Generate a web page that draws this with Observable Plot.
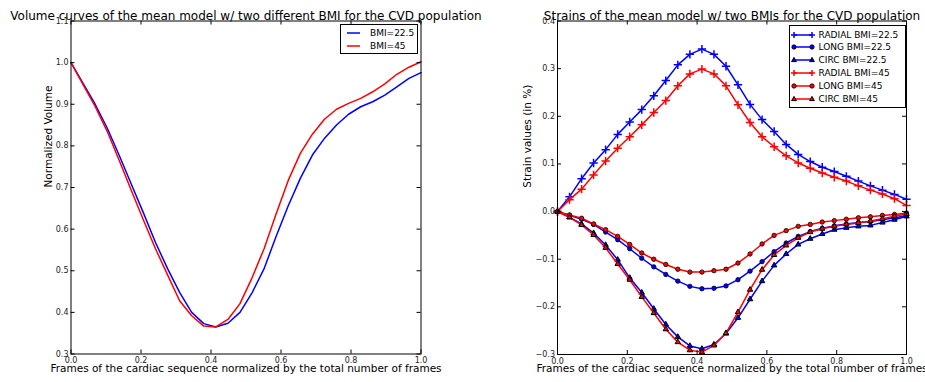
<!DOCTYPE html>
<html><head><meta charset="utf-8">
<script src="https://cdn.jsdelivr.net/npm/d3@7"></script>
<script src="https://cdn.jsdelivr.net/npm/@observablehq/plot@0.6"></script>
<style>
body{margin:0;background:#fff;font-family:"DejaVu Sans",sans-serif;}
#wrap{position:relative;width:925px;height:382px;overflow:hidden;background:#fff;}
#wrap svg.panel{position:absolute;left:0;top:0;}
.legend{position:absolute;border:1px solid #000;background:#fff;box-sizing:border-box;font-family:"DejaVu Sans",sans-serif;font-size:9px;color:#000;}
.legend .row{position:absolute;left:0;height:12px;line-height:12px;white-space:nowrap;}
.legend .row svg{position:absolute;top:0;}
.legend .row span{position:absolute;top:0;}
</style></head>
<body><div id="wrap"></div>
<script>
// ---- data ----
const frames = [0, 0.0345, 0.0690, 0.1034, 0.1379, 0.1724, 0.2069, 0.2414, 0.2759, 0.3103,
  0.3448, 0.3793, 0.4138, 0.4483, 0.4828, 0.5172, 0.5517, 0.5862, 0.6207, 0.6552,
  0.6897, 0.7241, 0.7586, 0.7931, 0.8276, 0.8621, 0.8966, 0.9310, 0.9655, 1.0];

const volBMI22 = [1.000,0.950,0.900,0.843,0.777,0.708,0.639,0.568,0.505,0.448,0.400,0.373,0.365,0.374,0.400,0.447,0.505,0.583,0.656,0.722,0.778,0.818,0.850,0.876,0.894,0.906,0.922,0.942,0.962,0.976];
const volBMI45 = [1.000,0.947,0.895,0.835,0.765,0.693,0.622,0.553,0.490,0.428,0.392,0.367,0.365,0.383,0.421,0.483,0.553,0.637,0.717,0.782,0.828,0.864,0.888,0.902,0.914,0.930,0.949,0.972,0.989,1.002];

const radial22 = [0,0.031,0.069,0.102,0.130,0.162,0.188,0.214,0.243,0.275,0.308,0.330,0.341,0.330,0.305,0.266,0.225,0.193,0.168,0.141,0.120,0.105,0.093,0.084,0.074,0.064,0.054,0.045,0.036,0.026];
const long22   = [0,-0.008,-0.016,-0.027,-0.043,-0.059,-0.078,-0.098,-0.116,-0.132,-0.146,-0.157,-0.162,-0.161,-0.156,-0.143,-0.125,-0.105,-0.084,-0.066,-0.052,-0.042,-0.035,-0.030,-0.026,-0.023,-0.021,-0.017,-0.013,-0.009];
const circ22   = [0,-0.012,-0.026,-0.045,-0.070,-0.101,-0.139,-0.170,-0.204,-0.237,-0.263,-0.282,-0.288,-0.279,-0.256,-0.223,-0.184,-0.146,-0.113,-0.089,-0.069,-0.057,-0.047,-0.038,-0.034,-0.031,-0.029,-0.023,-0.017,-0.010];
const radial45 = [0,0.025,0.047,0.077,0.106,0.133,0.157,0.182,0.208,0.233,0.264,0.289,0.299,0.289,0.264,0.224,0.187,0.157,0.136,0.117,0.102,0.091,0.081,0.072,0.064,0.054,0.045,0.037,0.027,0.013];
const long45   = [0,-0.007,-0.014,-0.026,-0.038,-0.052,-0.069,-0.087,-0.100,-0.111,-0.121,-0.127,-0.127,-0.124,-0.121,-0.108,-0.089,-0.068,-0.050,-0.040,-0.031,-0.027,-0.022,-0.019,-0.016,-0.013,-0.011,-0.008,-0.006,-0.003];
const circ45   = [0,-0.012,-0.028,-0.049,-0.076,-0.110,-0.143,-0.179,-0.213,-0.247,-0.274,-0.291,-0.295,-0.281,-0.255,-0.211,-0.164,-0.122,-0.091,-0.071,-0.055,-0.043,-0.036,-0.031,-0.027,-0.024,-0.020,-0.015,-0.010,-0.005];

const xTicks = [0, 0.2, 0.4, 0.6, 0.8, 1.0];
const volTicks = [0.3, 0.4, 0.5, 0.6, 0.7, 0.8, 0.9, 1.0, 1.1];
const strainTicks = [-0.3, -0.2, -0.1, 0.0, 0.1, 0.2, 0.3, 0.4];

const volSeries = [
  {name: "BMI=22.5", color: "#0000ff", values: volBMI22},
  {name: "BMI=45", color: "#ff0000", values: volBMI45}
];
const strainSeries = [
  {name: "RADIAL BMI=22.5", color: "#0000ff", symbol: "plus", values: radial22},
  {name: "LONG BMI=22.5", color: "#0000ff", symbol: "circle", values: long22},
  {name: "CIRC BMI=22.5", color: "#0000ff", symbol: "triangle", values: circ22},
  {name: "RADIAL BMI=45", color: "#ff0000", symbol: "plus", values: radial45},
  {name: "LONG BMI=45", color: "#ff0000", symbol: "circle", values: long45},
  {name: "CIRC BMI=45", color: "#ff0000", symbol: "triangle", values: circ45}
];

const titleL = "Volume curves of the mean model w/ two different BMI for the CVD population";
const titleR = "Strains of the mean model w/ two BMIs for the CVD population";
const xLabel = "Frames of the cardiac sequence normalized by the total number of frames";
const yLabelL = "Normalized Volume";
const yLabelR = "Strain values (in %)";

// ---- drawing ----
const W = 925, H = 382;
const fmt = d3.format(".1f");
const FONT = "DejaVu Sans";

function frameTicks(innerW, innerH, xt, yt) {
  const L = 4;
  return [
    Plot.tickX(xt, {x: d => d, insetTop: innerH - L, stroke: "#000"}),
    Plot.tickX(xt, {x: d => d, insetBottom: innerH - L, stroke: "#000"}),
    Plot.tickY(yt, {y: d => d, insetRight: innerW - L, stroke: "#000"}),
    Plot.tickY(yt, {y: d => d, insetLeft: innerW - L, stroke: "#000"})
  ];
}

function commonMarks(m, xt, yt, title, ylab, ylabDx) {
  const innerW = W - m.left - m.right, innerH = H - m.top - m.bottom;
  return [
    Plot.axisX({ticks: xt, tickSize: 0, tickPadding: 3.5, tickFormat: fmt, fontSize: 8, label: null, fill: "#222"}),
    Plot.axisY({ticks: yt, tickSize: 0, tickPadding: 2.5, tickFormat: fmt, fontSize: 8, label: null, fill: "#222"}),
    ...frameTicks(innerW, innerH, xt, yt),
    Plot.text([title], {text: d => d, frameAnchor: "top", dy: -10, fontSize: 12, fill: "#000"}),
    Plot.text([xLabel], {text: d => d, frameAnchor: "bottom", lineAnchor: "top", dy: 10.5, fontSize: 10.5, fill: "#000"}),
    Plot.text([ylab], {text: d => d, frameAnchor: "left", rotate: -90, dx: ylabDx, fontSize: 10.5, fill: "#000"})
  ];
}

const wrap = document.getElementById("wrap");

// Left panel
const mL = {left: 70.5, right: W - 420.5, top: 20.5, bottom: H - 353.5};
const volRows = volSeries.flatMap(s => s.values.map((v, i) => ({x: frames[i], y: v, name: s.name})));
const left = Plot.plot({
  width: W, height: H,
  marginLeft: mL.left, marginRight: mL.right, marginTop: mL.top, marginBottom: mL.bottom,
  x: {domain: [0, 1]},
  y: {domain: [0.3, 1.1]},
  style: {fontFamily: FONT, background: "transparent", overflow: "visible"},
  marks: [
    ...volSeries.map(s => Plot.line(volRows.filter(r => r.name === s.name), {x: "x", y: "y", stroke: s.color, strokeWidth: 1.5})),
    Plot.frame({stroke: "#000", strokeWidth: 1}),
    ...commonMarks(mL, xTicks, volTicks, titleL, yLabelL, -22)
  ]
});
left.classList.add("panel");
wrap.appendChild(left);

// Right panel
const mR = {left: 557, right: W - 906, top: 20.5, bottom: H - 354};
const strainRows = strainSeries.flatMap(s => s.values.map((v, i) => ({x: frames[i], y: v, name: s.name})));
const strainMarks = strainSeries.flatMap(s => {
  const rows = strainRows.filter(r => r.name === s.name);
  const line = Plot.line(rows, {x: "x", y: "y", stroke: s.color, strokeWidth: 1.5});
  let dots;
  if (s.symbol === "plus") dots = Plot.dot(rows, {x: "x", y: "y", symbol: "plus", r: 2.8, stroke: s.color, strokeWidth: 1.5});
  else if (s.symbol === "circle") dots = Plot.dot(rows, {x: "x", y: "y", symbol: "circle", r: 2.2, fill: s.color, stroke: "#000", strokeWidth: 0.8});
  else dots = Plot.dot(rows, {x: "x", y: "y", symbol: "triangle", r: 2, fill: s.color, stroke: "#000", strokeWidth: 1});
  return [line, dots];
});
const right = Plot.plot({
  width: W, height: H,
  marginLeft: mR.left, marginRight: mR.right, marginTop: mR.top, marginBottom: mR.bottom,
  x: {domain: [0, 1]},
  y: {domain: [-0.3, 0.4]},
  style: {fontFamily: FONT, background: "transparent", overflow: "visible"},
  marks: [
    ...strainMarks,
    Plot.frame({stroke: "#000", strokeWidth: 1}),
    ...commonMarks(mR, xTicks, strainTicks, titleR, yLabelR, -30)
  ]
});
right.classList.add("panel");
wrap.appendChild(right);

// ---- legends ----
function markerSvg(sym, color) {
  if (sym === "plus") return `<path d="M-3,0H3M0,-3V3" stroke="${color}" stroke-width="1.5" fill="none"/>`;
  if (sym === "circle") return `<circle r="2.2" fill="${color}" stroke="#000" stroke-width="0.8"/>`;
  if (sym === "triangle") return `<path d="M0,-2.6L2.4,1.6H-2.4Z" fill="${color}" stroke="#000" stroke-width="1"/>`;
  return "";
}
function makeLegend(series, box, rowY, lineX0, lineX1, textX) {
  const div = document.createElement("div");
  div.className = "legend";
  Object.assign(div.style, {left: box.x + "px", top: box.y + "px", width: box.w + "px", height: box.h + "px"});
  series.forEach((s, i) => {
    const row = document.createElement("div");
    row.className = "row";
    row.style.top = (rowY[i] - 6) + "px";
    row.style.width = box.w + "px";
    const w = lineX1 - lineX0 + 8;
    let svg = `<svg width="${w}" height="12" style="left:${lineX0 - 4}px"><line x1="4" x2="${w - 4}" y1="6" y2="6" stroke="${s.color}" stroke-width="1.5"/>`;
    if (s.symbol) svg += `<g transform="translate(4,6)">${markerSvg(s.symbol, s.color)}</g><g transform="translate(${w - 4},6)">${markerSvg(s.symbol, s.color)}</g>`;
    svg += `</svg>`;
    row.innerHTML = svg + `<span style="left:${textX}px">${s.name}</span>`;
    div.appendChild(row);
  });
  wrap.appendChild(div);
}
makeLegend(volSeries, {x: 340, y: 24, w: 78, h: 30}, [8, 21], 6, 19, 29);
makeLegend(strainSeries, {x: 789, y: 25, w: 117, h: 83}, [8.5, 21.2, 34, 46.8, 59.8, 73], 4, 22, 28.5);
</script>
</body></html>
